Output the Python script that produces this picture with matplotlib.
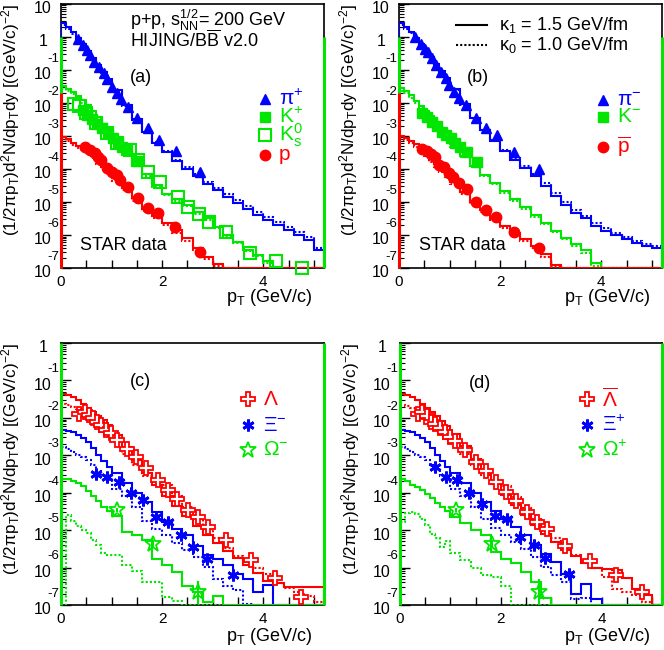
import matplotlib.pyplot as plt
import numpy as np
from matplotlib.ticker import LogLocator, FixedLocator, FuncFormatter, NullFormatter, MultipleLocator
from matplotlib.transforms import ScaledTranslation

plt.rcParams['font.family'] = ['Liberation Sans', 'DejaVu Sans']
plt.rcParams['mathtext.fontset'] = 'custom'
plt.rcParams['mathtext.rm'] = 'Liberation Sans'
plt.rcParams['mathtext.it'] = 'Liberation Sans:italic'
plt.rcParams['mathtext.default'] = 'regular'

# histogram bin edges in pT (GeV/c)
edges = [0.0, 0.1, 0.2, 0.3, 0.4, 0.5, 0.6, 0.7, 0.8, 0.9, 1.0,
         1.2, 1.4, 1.6, 1.8, 2.0, 2.2, 2.4, 2.6, 2.8, 3.0, 3.2, 3.4, 3.6,
         3.8, 4.0, 4.2, 4.4, 4.6, 4.8, 5.0, 5.2]

# HIJING/BBbar yields, log10 per bin; k15 = kappa 1.5 GeV/fm, k10 = kappa 1.0 GeV/fm
# (-9 = empty bin, drawn on the frame bottom)
pip_k15 = [0.41, 0.30, 0.15, -0.03, -0.22, -0.42, -0.63, -0.84, -1.05, -1.27,
           -1.62, -2.07, -2.50, -2.88, -3.20, -3.50, -3.77, -4.00, -4.22, -4.45, -4.65,
           -4.85, -5.02, -5.20, -5.39, -5.55, -5.70, -5.85, -6.00, -6.15, -6.45]
pip_k10 = [0.36, 0.25, 0.10, -0.08, -0.27, -0.47, -0.68, -0.89, -1.10, -1.31,
           -1.66, -2.10, -2.52, -2.88, -3.18, -3.46, -3.72, -3.94, -4.15, -4.38, -4.58,
           -4.77, -4.94, -5.12, -5.31, -5.47, -5.62, -5.77, -5.92, -6.07, -6.38]
kp_k15 = [-1.50, -1.57, -1.67, -1.80, -1.92, -2.07, -2.23, -2.43, -2.64, -2.84,
          -3.13, -3.49, -3.84, -4.15, -4.49, -4.75, -4.92, -5.08, -5.29, -5.50, -5.75,
          -6.00, -6.20, -6.45, -6.60, -6.80, -9, -9, -9, -9, -9]
kp_k10 = [-1.58, -1.64, -1.74, -1.86, -1.99, -2.14, -2.31, -2.51, -2.72, -2.92,
          -3.21, -3.57, -3.91, -4.22, -4.55, -4.80, -4.98, -5.12, -5.35, -5.56, -5.80,
          -6.05, -6.25, -6.48, -6.65, -6.85, -9, -9, -9, -9, -9]
p_k15 = [-3.03, -3.10, -3.20, -3.29, -3.39, -3.48, -3.60, -3.77, -3.94, -4.10,
         -4.28, -4.57, -4.89, -5.18, -5.42, -5.63, -5.85, -6.10, -6.40, -6.66, -6.87,
         -9, -9, -9, -9, -9, -9, -9, -9, -9, -9]
p_k10 = [-3.08, -3.16, -3.26, -3.36, -3.46, -3.56, -3.68, -3.84, -4.01, -4.17,
         -4.36, -4.65, -4.97, -5.26, -5.50, -5.71, -5.93, -6.18, -6.47, -6.74, -6.95,
         -9, -9, -9, -9, -9, -9, -9, -9, -9, -9]

pim_k15 = [0.41, 0.30, 0.16, -0.02, -0.21, -0.41, -0.62, -0.83, -1.04, -1.25,
           -1.58, -2.02, -2.45, -2.82, -3.15, -3.45, -3.72, -3.97, -4.22, -4.52, -4.82,
           -5.08, -5.32, -5.50, -5.72, -5.88, -6.00, -6.12, -6.25, -6.33, -6.40]
pim_k10 = [0.36, 0.25, 0.11, -0.07, -0.26, -0.46, -0.67, -0.88, -1.09, -1.29,
           -1.62, -2.05, -2.47, -2.82, -3.13, -3.41, -3.66, -3.90, -4.14, -4.43, -4.73,
           -4.99, -5.23, -5.42, -5.63, -5.80, -5.93, -6.05, -6.18, -6.26, -6.33]
km_k15 = [-1.55, -1.63, -1.76, -1.93, -2.08, -2.24, -2.40, -2.58, -2.77, -2.98,
          -3.25, -3.60, -3.90, -4.18, -4.43, -4.66, -4.92, -5.16, -5.40, -5.65, -5.88,
          -6.10, -6.28, -6.45, -6.86, -9, -9, -9, -9, -9, -9]
km_k10 = [-1.63, -1.71, -1.84, -2.01, -2.16, -2.32, -2.48, -2.66, -2.85, -3.05,
          -3.32, -3.65, -3.95, -4.22, -4.46, -4.72, -4.97, -5.20, -5.44, -5.68, -5.90,
          -6.12, -6.32, -6.55, -6.95, -9, -9, -9, -9, -9, -9]
pbar_k15 = [-3.01, -3.06, -3.15, -3.25, -3.39, -3.55, -3.71, -3.86, -4.01, -4.17,
            -4.40, -4.70, -4.98, -5.24, -5.49, -5.72, -5.93, -6.12, -6.32, -6.58, -6.92,
            -9, -9, -9, -9, -9, -9, -9, -9, -9, -9]
pbar_k10 = [-3.08, -3.13, -3.22, -3.32, -3.46, -3.62, -3.78, -3.93, -4.08, -4.24,
            -4.47, -4.77, -5.05, -5.31, -5.56, -5.79, -6.00, -6.19, -6.40, -6.66, -6.98,
            -9, -9, -9, -9, -9, -9, -9, -9, -9, -9]

lam_k15 = [-1.35, -1.39, -1.44, -1.51, -1.63, -1.74, -1.85, -1.95, -2.07, -2.20,
           -2.45, -2.78, -3.12, -3.46, -3.79, -4.08, -4.35, -4.62, -4.90, -5.13, -5.35,
           -5.55, -5.75, -5.93, -6.15, -6.35, -6.42, -6.52, -6.52, -6.52, -6.52]
lam_k10 = [-1.62, -1.66, -1.71, -1.77, -1.84, -1.94, -2.06, -2.17, -2.30, -2.43,
           -2.65, -2.96, -3.27, -3.55, -3.69, -3.80, -4.10, -4.38, -4.70, -4.98, -5.22,
           -5.48, -5.70, -5.84, -6.00, -6.18, -6.42, -6.55, -6.66, -6.75, -6.93]
xi_k15 = [-2.32, -2.34, -2.38, -2.45, -2.53, -2.64, -2.80, -2.98, -3.16, -3.30,
          -3.47, -3.75, -4.00, -4.25, -4.52, -4.78, -4.96, -5.14, -5.41, -5.67, -5.76,
          -5.94, -6.17, -6.30, -6.66, -6.46, -9, -9, -9, -9, -9]
xi_k10 = [-2.78, -2.84, -2.91, -2.98, -3.04, -3.13, -3.27, -3.42, -3.55, -3.67,
          -3.89, -4.10, -4.38, -4.76, -4.97, -5.14, -5.35, -5.52, -5.72, -5.98, -6.30,
          -6.50, -6.60, -6.97, -9, -9, -9, -9, -9, -9, -9]
om_k15 = [-3.62, -3.64, -3.68, -3.74, -3.83, -3.95, -4.08, -4.22, -4.38, -4.50,
          -4.62, -5.05, -5.14, -5.27, -5.76, -5.94, -6.12, -6.48, -6.66, -6.93, -6.75,
          -9, -9, -9, -9, -9, -9, -9, -9, -9, -9]
om_k10 = [-9, -4.60, -4.75, -4.90, -5.00, -5.08, -5.25, -5.40, -5.60, -5.67,
          -5.67, -5.94, -6.08, -6.39, -6.39, -6.79, -6.88, -9, -9, -9, -9,
          -9, -9, -9, -9, -9, -9, -9, -9, -9, -9]

alam_k15 = [-1.35, -1.39, -1.45, -1.53, -1.63, -1.74, -1.85, -1.96, -2.08, -2.21,
            -2.44, -2.76, -3.10, -3.44, -3.76, -4.05, -4.32, -4.60, -4.86, -5.10, -5.32,
            -5.52, -5.70, -5.88, -6.00, -6.05, -6.07, -6.29, -6.56, -6.74, -9]
alam_k10 = [-1.65, -1.68, -1.73, -1.79, -1.86, -1.96, -2.07, -2.18, -2.31, -2.44,
            -2.65, -2.96, -3.26, -3.53, -3.69, -3.82, -4.12, -4.40, -4.70, -4.98, -5.22,
            -5.46, -5.66, -5.82, -6.00, -6.25, -6.56, -6.65, -6.72, -6.92, -9]
axi_k15 = [-2.32, -2.34, -2.38, -2.45, -2.53, -2.64, -2.80, -2.98, -3.16, -3.30,
           -3.47, -3.75, -4.00, -4.25, -4.50, -4.70, -4.92, -5.12, -5.40, -5.65, -5.85,
           -6.16, -6.70, -6.43, -6.83, -9, -9, -9, -9, -9, -9]
axi_k10 = [-2.78, -2.84, -2.91, -2.98, -3.04, -3.13, -3.27, -3.42, -3.55, -3.67,
           -3.89, -4.10, -4.38, -4.70, -4.95, -5.12, -5.32, -5.50, -5.72, -5.98, -6.20,
           -6.38, -6.83, -6.80, -9, -9, -9, -9, -9, -9, -9]
aom_k15 = [-3.62, -3.70, -3.79, -3.86, -3.93, -4.04, -4.15, -4.27, -4.38, -4.49,
           -4.64, -4.82, -5.00, -5.13, -5.58, -5.76, -5.89, -6.12, -6.38, -6.80, -9,
           -9, -9, -9, -9, -9, -9, -9, -9, -9, -9]
aom_k10 = [-4.78, -4.55, -4.51, -4.58, -4.70, -4.85, -5.10, -5.22, -5.45, -5.30,
           -5.62, -5.80, -6.00, -6.21, -6.25, -6.50, -9, -9, -9, -9, -9,
           -9, -9, -9, -9, -9, -9, -9, -9, -9, -9]

# STAR data points: pT and log10 yield
pip_pt = [0.34, 0.44, 0.52, 0.57, 0.66, 0.75, 0.84, 0.90, 1.00, 1.10, 1.18, 1.33, 1.51, 1.71, 1.93, 2.27, 2.75]
pip_y = [-0.07, -0.24, -0.39, -0.55, -0.75, -0.90, -1.10, -1.27, -1.51, -1.71, -1.88, -2.13, -2.46, -2.77, -3.12, -3.45, -4.10]
kp_pt = [0.44, 0.52, 0.62, 0.72, 0.82, 0.92, 1.02, 1.12, 1.21, 1.31, 1.51]
kp_y = [-2.21, -2.36, -2.49, -2.64, -2.77, -2.92, -3.07, -3.22, -3.32, -3.42, -3.76]
k0s_pt = [0.26, 0.36, 0.50, 0.70, 0.90, 1.10, 1.36, 1.52, 1.72, 1.95, 2.32, 2.51, 2.72, 2.92, 3.27, 3.74, 4.26, 4.77]
k0s_y = [-2.04, -2.09, -2.30, -2.60, -2.90, -3.20, -3.42, -3.73, -4.08, -4.38, -4.84, -5.14, -5.36, -5.62, -5.90, -6.55, -6.80, -7.00]
p_pt = [0.47, 0.57, 0.67, 0.73, 0.80, 0.90, 1.00, 1.10, 1.16, 1.33, 1.52, 1.72, 1.92, 2.25, 2.75]
p_y = [-3.32, -3.42, -3.52, -3.63, -3.73, -3.98, -4.08, -4.18, -4.33, -4.54, -4.89, -5.19, -5.34, -5.75, -6.53]

pim_pt = [0.32, 0.43, 0.52, 0.58, 0.66, 0.74, 0.83, 0.93, 0.99, 1.09, 1.19, 1.33, 1.52, 1.72, 1.93, 2.28, 2.77]
pim_y = [-0.01, -0.21, -0.37, -0.47, -0.65, -0.85, -1.05, -1.25, -1.45, -1.66, -1.86, -2.06, -2.46, -2.77, -2.97, -3.48, -4.01]
km_pt = [0.45, 0.55, 0.65, 0.75, 0.85, 0.93, 1.03, 1.11, 1.21, 1.34, 1.54]
km_y = [-2.29, -2.43, -2.57, -2.70, -2.87, -2.97, -3.07, -3.20, -3.32, -3.49, -3.78]
pbar_pt = [0.46, 0.55, 0.64, 0.72, 0.79, 0.89, 0.98, 1.06, 1.18, 1.34, 1.52, 1.72, 1.92, 2.27, 2.77]
pbar_y = [-3.40, -3.47, -3.55, -3.63, -3.88, -3.93, -4.13, -4.23, -4.43, -4.62, -4.99, -5.24, -5.47, -5.90, -6.40]

lam_pt = [0.36, 0.47, 0.56, 0.64, 0.72, 0.80, 0.89, 0.98, 1.10, 1.30, 1.49, 1.69, 1.92, 2.12, 2.30, 2.51, 2.71, 2.91, 3.27, 3.76, 4.24, 4.75]
lam_y = [-1.90, -1.83, -1.92, -2.01, -2.10, -2.19, -2.32, -2.41, -2.59, -2.83, -3.04, -3.33, -3.66, -3.93, -4.16, -4.45, -4.65, -4.92, -5.27, -5.81, -6.27, -6.79]
xi_pt = [0.69, 0.91, 1.15, 1.38, 1.63, 1.87, 2.12, 2.37, 2.61, 2.88, 3.40]
xi_y = [-3.49, -3.57, -3.71, -4.02, -4.20, -4.65, -4.78, -5.14, -5.45, -5.76, -6.19]
om_pt = [1.10, 1.81, 2.71]
om_y = [-4.47, -5.36, -6.66]
om_err = [0.05, 0.10, 0.30]

alam_pt = [0.35, 0.43, 0.53, 0.62, 0.70, 0.80, 0.90, 1.00, 1.10, 1.30, 1.50, 1.70, 1.91, 2.11, 2.31, 2.52, 2.71, 2.92, 3.27, 3.77, 4.29, 4.80]
alam_y = [-1.90, -1.85, -1.96, -2.10, -2.17, -2.28, -2.38, -2.50, -2.63, -2.86, -3.17, -3.42, -3.71, -3.97, -4.21, -4.51, -4.78, -4.97, -5.42, -5.82, -6.21, -6.65]
axi_pt = [0.70, 0.92, 1.13, 1.37, 1.62, 1.88, 2.13, 2.39, 2.65, 2.87, 3.35]
axi_y = [-3.30, -3.57, -3.66, -4.00, -4.29, -4.62, -4.69, -5.18, -5.40, -5.74, -6.16]
aom_pt = [1.11, 1.82, 2.75]
aom_y = [-4.46, -5.36, -6.65]
aom_err = [0.05, 0.10, 0.35]

BLUE = '#0000ff'
GREEN = '#00e600'
RED = '#ff0000'

fig = plt.figure(figsize=(6.64, 6.5), dpi=100)
ax_a = fig.add_axes([0.0919, 0.5877, 0.3961, 0.4062])
ax_b = fig.add_axes([0.6009, 0.5877, 0.3961, 0.4062])
ax_c = fig.add_axes([0.0919, 0.0692, 0.3961, 0.4031])
ax_d = fig.add_axes([0.6024, 0.0692, 0.3946, 0.4031])

YLABEL = r'(1/2$\pi$p$_{T}$)d$^{2}$N/dp$_{T}$dy [(GeV/c)$^{-2}$]'


def setup(ax, top_exp, xlab_y):
    ymin = 1e-7
    ax.set_yscale('log')
    ax.set_xlim(0, 5.2)
    ax.set_ylim(ymin, 10.0 ** top_exp)
    ax.yaxis.set_major_locator(FixedLocator(10.0 ** np.arange(-7, top_exp + 1)))
    ax.yaxis.set_minor_locator(LogLocator(base=10, subs=np.arange(2, 10), numticks=20))
    ax.yaxis.set_minor_formatter(NullFormatter())
    ax.yaxis.set_major_formatter(FuncFormatter(lambda v, _: '1' if abs(v - 1) < 1e-9 else '10'))
    ax.xaxis.set_major_locator(MultipleLocator(2))
    ax.xaxis.set_minor_locator(MultipleLocator(0.5))
    ax.tick_params(axis='y', which='major', direction='in', length=7, width=1, labelsize=11.5, pad=13)
    ax.tick_params(axis='y', which='minor', direction='in', length=3.5, width=0.8)
    ax.tick_params(axis='x', which='both', direction='in', length=5.5, width=1, labelsize=11, pad=5)
    shift = ScaledTranslation(0, -2.5 / 72, fig.dpi_scale_trans)
    for lab in ax.get_yticklabels():
        lab.set_ha('center')
        lab.set_transform(lab.get_transform() + shift)
    for sp in ax.spines.values():
        sp.set_linewidth(1.2)
    # ROOT style exponents up and right of the "10" labels
    for e in range(-7, 0):
        ax.annotate(str(e), xy=(0, 10.0 ** e), xycoords=('axes fraction', 'data'),
                    xytext=(-10, 8), textcoords='offset points',
                    ha='left', va='center', fontsize=9.5)
    ax.text(-0.19, 1.0, YLABEL, transform=ax.transAxes, rotation=90,
            ha='center', va='top', fontsize=12.3)
    ax.text(0.955, xlab_y, r'p$_{T}$ (GeV/c)', transform=ax.transAxes,
            ha='right', va='center', fontsize=13)


def hist(ax, lg, color, dotted=False):
    ymin = ax.get_ylim()[0]
    vals = np.clip(10.0 ** np.array(lg), ymin, None)
    ax.stairs(vals, edges, baseline=ymin, color=color, lw=1.5,
              ls=(0, (1, 1)) if dotted else '-', zorder=3)


def edge_lines(ax, items):
    x0, x1 = ax.get_xlim()
    ymin = ax.get_ylim()[0]
    for side, color, top in items:
        ax.vlines(x0 if side == 'left' else x1, ymin, top, color=color, lw=2.2,
                  zorder=4, clip_on=False)


def pts(ax, pt, lg, **kw):
    ax.plot(pt, 10.0 ** np.array(lg), ls='none', zorder=5, clip_on=False, **kw)


def legend_entry(ax, xm, xt, y, marker_kw, label, color, size=15):
    ax.plot([xm], [y], transform=ax.transAxes, ls='none', clip_on=False, **marker_kw)
    ax.text(xt, y, label, transform=ax.transAxes, color=color, fontsize=size,
            ha='left', va='center')


tri = dict(marker='^', ms=7.5, color=BLUE)
sqf = dict(marker='s', ms=6.5, color=GREEN)
sqo = dict(marker='s', ms=8.5, mfc='none', mec=GREEN, mew=1.5)
circ = dict(marker='o', ms=7.5, color=RED)
cross = dict(marker='P', ms=9.5, mfc='white', mec=RED, mew=1.3)
aster = dict(marker=(6, 2, 0), ms=8.5, mec=BLUE, mew=2.0)
star = dict(marker='*', ms=12, mfc='none', mec=GREEN, mew=1.3)

# ---------------- (a)
ax = ax_a
setup(ax, 1, -0.11)
hist(ax, pip_k15, BLUE)
hist(ax, pip_k10, BLUE, True)
hist(ax, kp_k15, GREEN)
hist(ax, kp_k10, GREEN, True)
hist(ax, p_k15, RED)
hist(ax, p_k10, RED, True)
edge_lines(ax, [('left', GREEN, 1.0), ('left', RED, 2e-2), ('right', GREEN, 1.0)])
pts(ax, k0s_pt, k0s_y, **sqo)
pts(ax, kp_pt, kp_y, **sqf)
pts(ax, pip_pt, pip_y, **tri)
pts(ax, p_pt, p_y, **circ)
ax.text(0.262, 0.939, r'p+p, s$_{NN}^{1/2}$= 200 GeV', transform=ax.transAxes, fontsize=13, va='center')
ax.text(0.262, 0.864, r'HIJING/B$\overline{B}$ v2.0', transform=ax.transAxes, fontsize=13, va='center')
ax.text(0.262, 0.723, '(a)', transform=ax.transAxes, fontsize=13, va='center')
ax.text(0.072, 0.087, 'STAR data', transform=ax.transAxes, fontsize=13, va='center')
legend_entry(ax, 0.776, 0.829, 0.640, tri, r'$\pi^{+}$', BLUE)
legend_entry(ax, 0.776, 0.829, 0.572, sqf, r'K$^{+}$', GREEN)
legend_entry(ax, 0.776, 0.829, 0.503, sqo, r'K$^{0}_{s}$', GREEN)
legend_entry(ax, 0.776, 0.829, 0.428, circ, 'p', RED)

# ---------------- (b)
ax = ax_b
setup(ax, 1, -0.11)
hist(ax, pim_k15, BLUE)
hist(ax, pim_k10, BLUE, True)
hist(ax, km_k15, GREEN)
hist(ax, km_k10, GREEN, True)
hist(ax, pbar_k15, RED)
hist(ax, pbar_k10, RED, True)
edge_lines(ax, [('left', GREEN, 1.0), ('left', RED, 2e-2), ('right', GREEN, 1.0)])
pts(ax, km_pt, km_y, **sqf)
pts(ax, pim_pt, pim_y, **tri)
pts(ax, pbar_pt, pbar_y, **circ)
ax.plot([0.218, 0.335], [0.92, 0.92], transform=ax.transAxes, color='black', lw=1.5)
ax.plot([0.218, 0.335], [0.845, 0.845], transform=ax.transAxes, color='black', lw=1.5, ls=(0, (1, 1)))
ax.text(0.38, 0.92, r'$\kappa_{1}$ = 1.5 GeV/fm', transform=ax.transAxes, fontsize=13, va='center')
ax.text(0.38, 0.845, r'$\kappa_{0}$ = 1.0 GeV/fm', transform=ax.transAxes, fontsize=13, va='center')
ax.text(0.259, 0.72, '(b)', transform=ax.transAxes, fontsize=13, va='center')
ax.text(0.076, 0.087, 'STAR data', transform=ax.transAxes, fontsize=13, va='center')
legend_entry(ax, 0.775, 0.829, 0.636, tri, r'$\pi^{-}$', BLUE)
legend_entry(ax, 0.775, 0.829, 0.572, sqf, r'K$^{-}$', GREEN)
legend_entry(ax, 0.775, 0.829, 0.458, circ, r'$\overline{p}$', RED)

# ---------------- (c)
ax = ax_c
setup(ax, 0, -0.122)
hist(ax, lam_k15, RED)
hist(ax, lam_k10, RED, True)
hist(ax, xi_k15, BLUE)
hist(ax, xi_k10, BLUE, True)
hist(ax, om_k15, GREEN)
hist(ax, om_k10, GREEN, True)
edge_lines(ax, [('left', GREEN, 1.0), ('right', GREEN, 1.0)])
pts(ax, lam_pt, lam_y, **cross)
pts(ax, xi_pt, xi_y, **aster)
ax.errorbar(om_pt, 10.0 ** np.array(om_y),
            yerr=[10.0 ** np.array(om_y) * (1 - 10.0 ** -np.array(om_err)),
                  10.0 ** np.array(om_y) * (10.0 ** np.array(om_err) - 1)],
            ls='none', ecolor=GREEN, elinewidth=1.5, capsize=0, zorder=5, **star)
ax.text(0.262, 0.852, '(c)', transform=ax.transAxes, fontsize=13, va='center')
legend_entry(ax, 0.712, 0.769, 0.786, cross, r'$\Lambda$', RED)
legend_entry(ax, 0.712, 0.769, 0.687, aster, r'$\Xi^{-}$', BLUE)
legend_entry(ax, 0.712, 0.769, 0.592, star, r'$\Omega^{-}$', GREEN)

# ---------------- (d)
ax = ax_d
setup(ax, 0, -0.122)
hist(ax, alam_k15, RED)
hist(ax, alam_k10, RED, True)
hist(ax, axi_k15, BLUE)
hist(ax, axi_k10, BLUE, True)
hist(ax, aom_k15, GREEN)
hist(ax, aom_k10, GREEN, True)
edge_lines(ax, [('left', GREEN, 1.0), ('right', GREEN, 1.0)])
pts(ax, alam_pt, alam_y, **cross)
pts(ax, axi_pt, axi_y, **aster)
ax.errorbar(aom_pt, 10.0 ** np.array(aom_y),
            yerr=[10.0 ** np.array(aom_y) * (1 - 10.0 ** -np.array(aom_err)),
                  10.0 ** np.array(aom_y) * (10.0 ** np.array(aom_err) - 1)],
            ls='none', ecolor=GREEN, elinewidth=1.5, capsize=0, zorder=5, **star)
ax.text(0.262, 0.846, '(d)', transform=ax.transAxes, fontsize=13, va='center')
legend_entry(ax, 0.714, 0.771, 0.786, cross, r'$\overline{\Lambda}$', RED)
legend_entry(ax, 0.714, 0.771, 0.687, aster, r'$\Xi^{+}$', BLUE)
legend_entry(ax, 0.714, 0.771, 0.592, star, r'$\Omega^{+}$', GREEN)

fig.savefig('out.png', dpi=100)
